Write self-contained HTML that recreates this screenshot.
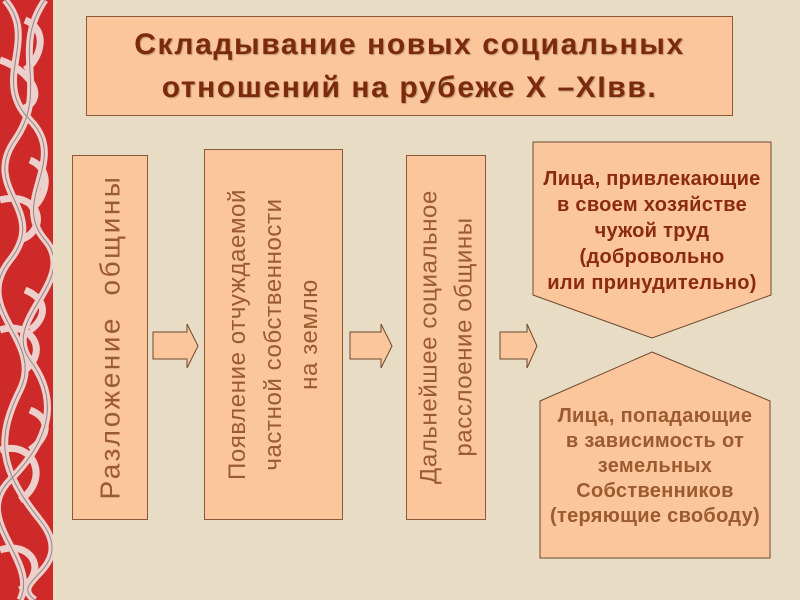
<!DOCTYPE html>
<html><head><meta charset="utf-8"><style>
html,body{margin:0;padding:0}
body{width:800px;height:600px;position:relative;overflow:hidden;background:#e9dcc4;font-family:"Liberation Sans","DejaVu Sans",sans-serif}
.box{position:absolute;background:#fbc69c;border:1px solid #8a5a3a;box-sizing:border-box}
.rot{position:absolute;transform:rotate(-90deg);transform-origin:center;text-align:center;color:#9b5a30;display:flex;align-items:center;justify-content:center;white-space:nowrap}
.title{position:absolute;left:86px;top:16px;width:647px;height:100px;background:#fbc69c;border:1px solid #8a5a3a;box-sizing:border-box;text-align:center;color:#7c2a0c;font-weight:bold;font-size:30px;line-height:43px;padding-top:6px;letter-spacing:1.6px;text-shadow:1px 1px 1px rgba(0,0,0,0.25);white-space:nowrap}
</style></head><body>
<svg style="position:absolute;left:0;top:0" width="53" height="600">
<rect width="53" height="600" fill="#cf2a2a"/>
<g fill="none" stroke="#f1e3de" stroke-width="7" opacity="0.9">
<path d="M5 0 C40 40 -10 80 30 120 S10 200 45 240 S0 320 30 360 S50 440 10 480 S40 560 20 600"/>
<path d="M45 0 C10 50 50 90 15 140 S50 210 10 260 S45 340 20 390 S0 470 40 520 S5 580 35 600"/>
<path d="M0 60 C30 70 50 100 20 110 M0 200 C40 190 50 230 20 240 M0 330 C30 320 50 350 25 370 M0 450 C35 440 50 480 20 500 M0 550 C30 540 50 570 20 590"/>
<path d="M25 20 C50 30 40 60 25 70 M30 160 C55 170 45 200 30 210 M25 290 C50 300 45 320 30 330 M30 410 C55 420 45 440 30 450"/>
</g>
<g fill="none" stroke="#555" stroke-width="1" opacity="0.6">
<path d="M5 0 C40 40 -10 80 30 120 S10 200 45 240 S0 320 30 360 S50 440 10 480 S40 560 20 600"/>
<path d="M45 0 C10 50 50 90 15 140 S50 210 10 260 S45 340 20 390 S0 470 40 520 S5 580 35 600"/>
</g>
</svg>
<div class="title">Складывание новых социальных<br>отношений на рубеже Х –XIвв.</div>

<div class="box" style="left:72px;top:155px;width:76px;height:365px"></div>
<div class="rot" style="left:-72px;top:299px;width:365px;height:76px;font-size:28px;letter-spacing:2.5px">Разложение&nbsp;&nbsp;общины</div>

<div class="box" style="left:204px;top:149px;width:139px;height:371px"></div>
<div class="rot" style="left:88px;top:265px;width:371px;height:139px;font-size:24px;line-height:36px;letter-spacing:0.6px">Появление отчуждаемой<br>частной собственности<br>на землю</div>

<div class="box" style="left:406px;top:155px;width:80px;height:365px"></div>
<div class="rot" style="left:264px;top:297px;width:365px;height:80px;font-size:24px;line-height:35px;letter-spacing:0.6px">Дальнейшее социальное<br>расслоение общины</div>

<svg style="position:absolute;left:0;top:0" width="800" height="600">
<g fill="#fbc69c" stroke="#6b4a30" stroke-width="1">
<path d="M153 332 H187 V324 L198 346 L187 368 V359 H153 Z"/>
<path d="M350 332 H381 V324 L392 346 L381 368 V359 H350 Z"/>
<path d="M500 332 H527 V324 L537 346 L527 368 V359 H500 Z"/>
<path d="M533 142 H771 V295 L652 338 L533 295 Z"/>
<path d="M652 352 L770 401 V558 H540 V401 Z"/>
</g>
<g font-family="Liberation Sans, sans-serif" font-weight="bold" font-size="20" text-anchor="middle" letter-spacing="0.3">
<g fill="#8a2a0e">
<text x="652" y="185">Лица, привлекающие</text>
<text x="652" y="211">в своем хозяйстве</text>
<text x="652" y="237">чужой труд</text>
<text x="652" y="263">(добровольно</text>
<text x="652" y="289">или принудительно)</text>
</g>
<g fill="#9b5a30">
<text x="655" y="422">Лица, попадающие</text>
<text x="655" y="447">в зависимость от</text>
<text x="655" y="472">земельных</text>
<text x="655" y="497">Собственников</text>
<text x="655" y="522">(теряющие свободу)</text>
</g>
</g>
</svg>
</body></html>
